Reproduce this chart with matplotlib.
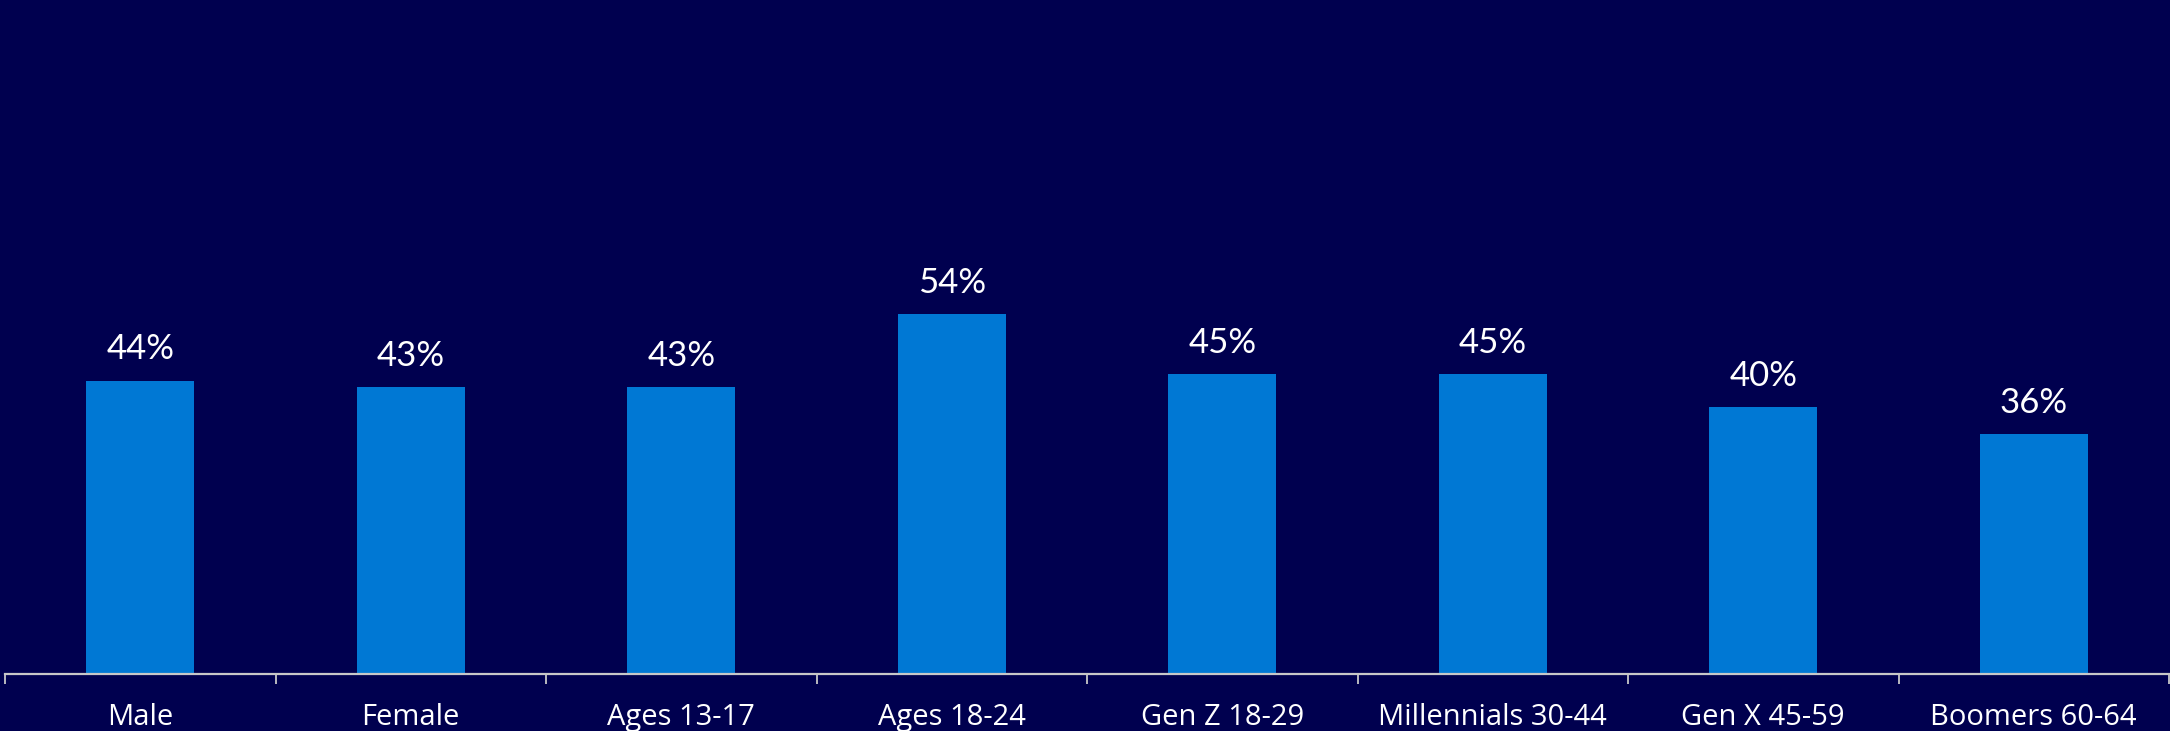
import matplotlib
matplotlib.use("Agg")
import matplotlib.pyplot as plt
import numpy as np

categories = ["Male", "Female", "Ages 13-17", "Ages 18-24", "Gen Z 18-29",
              "Millennials 30-44", "Gen X 45-59", "Boomers 60-64"]
values = [44, 43, 43, 54, 45, 45, 40, 36]

BG = "#00004F"
BAR = "#0078D4"
AXIS = "#C8C8C8"

plt.rcParams['font.family'] = ['Lato', 'DejaVu Sans']

W, H = 2170, 731
fig = plt.figure(figsize=(W / 100, H / 100), dpi=100, facecolor=BG)
ax = fig.add_axes([5 / W, (H - 674) / H, (2169 - 5) / W, (674 - 7) / H])
ax.set_facecolor(BG)

x = np.arange(len(categories))
bars = ax.bar(x, values, width=0.4, color=BAR, zorder=2)

ax.set_xlim(-0.5, len(categories) - 0.5)
ax.set_ylim(0, 100)

for xi, v in zip(x, values):
    ax.annotate(f"{v}%", (xi, v), xytext=(0, 11), textcoords="offset points",
                ha="center", va="bottom", color="white", fontsize=25)

# category boundaries as major ticks, labels on minor ticks
ax.set_xticks(np.arange(-0.5, len(categories), 1.0))
ax.set_xticklabels([])
ax.set_xticks(x, minor=True)
ax.set_xticklabels(categories, minor=True)
for lbl in ax.get_xticklabels(minor=True):
    lbl.set_fontfamily(['Open Sans', 'DejaVu Sans'])
ax.tick_params(axis="x", which="major", length=7.5, width=1.3, color=AXIS, direction="out")
ax.tick_params(axis="x", which="minor", length=0, pad=21, labelsize=21, labelcolor="white")
ax.set_yticks([])

for s in ["top", "right", "left"]:
    ax.spines[s].set_visible(False)
ax.spines["bottom"].set_color(AXIS)
ax.spines["bottom"].set_linewidth(1.6)
ax.spines["bottom"].set_zorder(3)

fig.savefig("out.png", dpi=100, facecolor=BG)
